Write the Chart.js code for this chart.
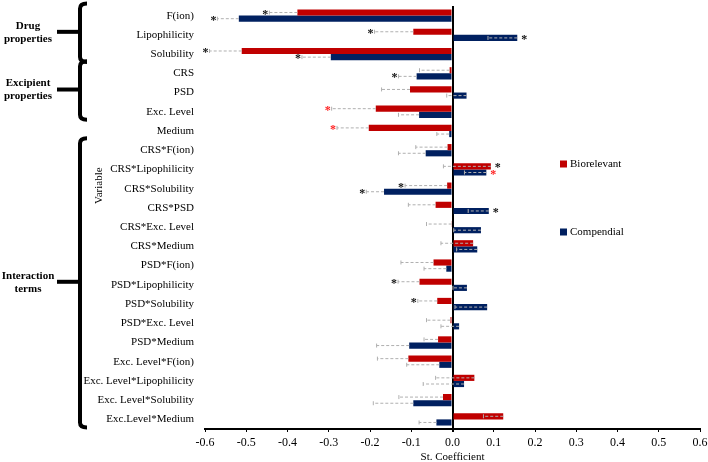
<!DOCTYPE html>
<html>
<head>
<meta charset="utf-8">
<script src="https://cdn.jsdelivr.net/npm/chart.js@4.4.0/dist/chart.umd.min.js"></script>
<style>
  html, body { margin: 0; padding: 0; background: #fff; }
  #wrap { width: 708px; height: 462px; position: relative; }
</style>
</head>
<body>
<div id="wrap"><canvas id="coefChart"></canvas></div>
<script>
const variables = [
  "F(ion)", "Lipophilicity", "Solubility", "CRS", "PSD", "Exc. Level", "Medium",
  "CRS*F(ion)", "CRS*Lipophilicity", "CRS*Solubility", "CRS*PSD", "CRS*Exc. Level",
  "CRS*Medium", "PSD*F(ion)", "PSD*Lipophilicity", "PSD*Solubility", "PSD*Exc. Level",
  "PSD*Medium", "Exc. Level*F(ion)", "Exc. Level*Lipophilicity", "Exc. Level*Solubility",
  "Exc.Level*Medium"
];

const biorelevant = [
  -0.376, -0.095, -0.511, -0.007, -0.103, -0.186, -0.203,
  -0.012, 0.093, -0.013, -0.041, -0.002, 0.050, -0.046, -0.080,
  -0.037, -0.005, -0.035, -0.107, 0.053, -0.023, 0.123
];
const compendial = [
  -0.518, 0.157, -0.295, -0.087, 0.034, -0.081, -0.008,
  -0.065, 0.082, -0.166, 0.088, 0.069, 0.060, -0.015, 0.035,
  0.084, 0.016, -0.105, -0.032, 0.028, -0.095, -0.039
];

// lower error bar lengths (minus direction)
const bioError = [
  0.068, 0.094, 0.078, 0.073, 0.069, 0.107, 0.077,
  0.077, 0.115, 0.102, 0.066, 0.061, 0.078, 0.079, 0.052,
  0.047, 0.058, 0.034, 0.075, 0.094, 0.107, 0.048
];
const compError = [
  0.052, 0.071, 0.070, 0.044, 0.048, 0.050, 0.030,
  0.066, 0.053, 0.043, 0.050, 0.066, 0.050, 0.054, 0.034,
  0.078, 0.044, 0.079, 0.079, 0.099, 0.097, 0.042
];

// significance marks: "k" black, "r" red, "" none
const bioStars = [
  "k", "k", "k", "", "", "r", "r",
  "", "k", "k", "", "", "", "", "k",
  "k", "", "", "", "", "", ""
];
const compStars = [
  "k", "k", "k", "k", "", "", "",
  "", "r", "k", "k", "", "", "", "",
  "", "", "", "", "", "", ""
];

const groupNames = [["Drug", "properties"], ["Excipient", "properties"], ["Interaction", "terms"]];
const groupFirst = [0, 3, 7];
const groupLast = [2, 5, 21];

const RED = "#c00000";
const NAVY = "#002060";
const SERIF = "'Liberation Serif', 'DejaVu Serif', serif";

const errorBars = {
  id: "errorBars",
  afterDatasetsDraw(chart) {
    const ctx = chart.ctx;
    const xs = chart.scales.x;
    chart.data.datasets.forEach((ds, di) => {
      const meta = chart.getDatasetMeta(di);
      meta.data.forEach((bar, i) => {
        const v = ds.data[i];
        const x0 = bar.x;
        const x1 = xs.getPixelForValue(v - ds.errors[i]);
        ctx.save();
        ctx.strokeStyle = "#b0b0b0";
        ctx.lineWidth = 1;
        ctx.setLineDash([3, 2]);
        ctx.beginPath();
        ctx.moveTo(x0, bar.y);
        ctx.lineTo(x1, bar.y);
        ctx.stroke();
        ctx.setLineDash([]);
        ctx.beginPath();
        ctx.moveTo(x1, bar.y - 2);
        ctx.lineTo(x1, bar.y + 2);
        ctx.stroke();

        const star = ds.stars[i];
        if (star) {
          const sx = v < 0 ? x1 - 4 : x0 + 7;
          ctx.fillStyle = star === "r" ? "#ff2020" : "#111";
          ctx.font = "bold 12px " + SERIF;
          ctx.textAlign = "center";
          ctx.textBaseline = "middle";
          ctx.fillText("*", sx, bar.y + 2);
        }
        ctx.restore();
      });
    });
  }
};

const decorations = {
  id: "decorations",
  afterDraw(chart) {
    const ctx = chart.ctx;
    const ys = chart.scales.y;
    ctx.save();

    // group brackets
    groupNames.forEach((lines, g) => {
      const top = ys.getPixelForValue(groupFirst[g]) - 12;
      const bot = ys.getPixelForValue(groupLast[g]) + 8;
      const mid = (top + bot) / 2 - 1;
      const bx = 80;
      ctx.strokeStyle = "#000";
      ctx.lineWidth = 4;
      ctx.lineCap = "butt";
      ctx.beginPath();
      ctx.moveTo(bx + 7, top);
      ctx.quadraticCurveTo(bx, top, bx, top + 5);
      ctx.lineTo(bx, bot - 5);
      ctx.quadraticCurveTo(bx, bot, bx + 7, bot);
      ctx.stroke();
      ctx.beginPath();
      ctx.moveTo(57, mid);
      ctx.lineTo(bx, mid);
      ctx.stroke();

      ctx.fillStyle = "#000";
      ctx.font = "bold 11px " + SERIF;
      ctx.textAlign = "center";
      ctx.textBaseline = "middle";
      ctx.fillText(lines[0], 28, mid - 6);
      ctx.fillText(lines[1], 28, mid + 7);
    });

    // y axis title
    ctx.save();
    ctx.translate(99, ys.getPixelForValue(9) - 3);
    ctx.rotate(-Math.PI / 2);
    ctx.font = "11px " + SERIF;
    ctx.fillStyle = "#000";
    ctx.textAlign = "center";
    ctx.textBaseline = "middle";
    ctx.fillText("Variable", 0, 0);
    ctx.restore();

    // legend
    const legendY = [164, 232];
    chart.data.datasets.forEach((ds, i) => {
      ctx.fillStyle = ds.backgroundColor;
      ctx.fillRect(560, legendY[i] - 3.5, 7, 7);
      ctx.fillStyle = "#000";
      ctx.font = "11px " + SERIF;
      ctx.textAlign = "left";
      ctx.textBaseline = "middle";
      ctx.fillText(ds.label, 570, legendY[i]);
    });
    ctx.restore();
  }
};

new Chart(document.getElementById("coefChart"), {
  type: "bar",
  data: {
    labels: variables,
    datasets: [
      { label: "Biorelevant", data: biorelevant, errors: bioError, stars: bioStars, backgroundColor: RED },
      { label: "Compendial", data: compendial, errors: compError, stars: compStars, backgroundColor: NAVY }
    ]
  },
  options: {
    indexAxis: "y",
    responsive: true,
    maintainAspectRatio: false,
    animation: false,
    layout: { padding: { top: 6, right: 0, bottom: 0, left: 0 } },
    datasets: { bar: { categoryPercentage: 0.64, barPercentage: 1.0 } },
    plugins: {
      legend: { display: false },
      tooltip: { enabled: false }
    },
    scales: {
      x: {
        min: -0.6,
        max: 0.6,
        afterFit(scale) {
          scale.height = 33;
          scale.paddingRight = 8;
          scale.paddingLeft = 0;
        },
        ticks: {
          stepSize: 0.1,
          color: "#000",
          padding: 4,
          maxRotation: 0,
          font: { family: SERIF, size: 12 },
          callback: (v) => Number(v).toFixed(1)
        },
        grid: {
          color: (c) => (c.tick && Math.abs(c.tick.value) < 1e-9 ? "#000" : "rgba(0,0,0,0)"),
          lineWidth: (c) => (c.tick && Math.abs(c.tick.value) < 1e-9 ? 2 : 1),
          tickColor: "#000",
          tickLength: 3
        },
        border: { display: true, color: "#000", width: 2 },
        title: {
          display: true,
          text: "St. Coefficient",
          color: "#000",
          padding: { top: 0, bottom: 0 },
          font: { family: SERIF, size: 11, lineHeight: 0.8 }
        }
      },
      y: {
        afterFit(scale) {
          scale.width = 205;
          scale.paddingTop = 0;
          scale.paddingBottom = 0;
        },
        grid: { display: false },
        border: { display: false },
        ticks: {
          color: "#000",
          padding: 3,
          autoSkip: false,
          font: { family: SERIF, size: 11 }
        }
      }
    }
  },
  plugins: [errorBars, decorations]
});
</script>
</body>
</html>
